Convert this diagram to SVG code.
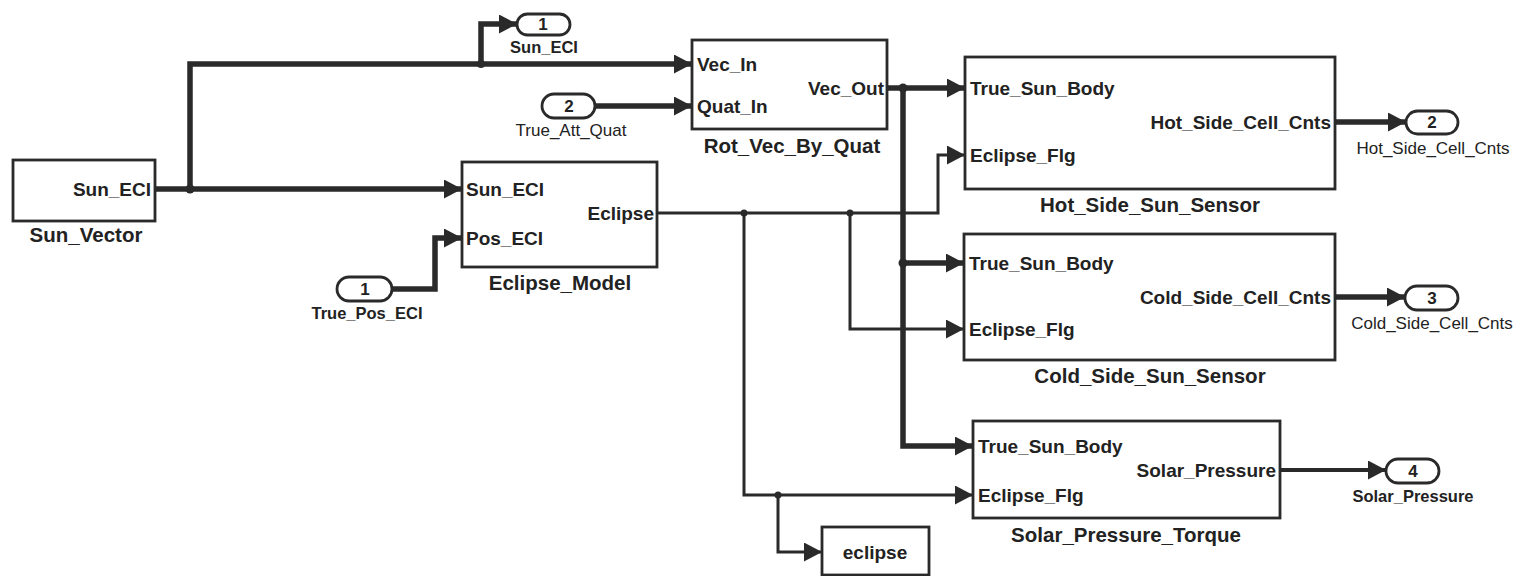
<svg xmlns="http://www.w3.org/2000/svg" width="1520" height="576" viewBox="0 0 1520 576">
<style>
.blk{fill:#fff;stroke:#2a2a2a;stroke-width:2.8}
.port{fill:#fff;stroke:#2a2a2a;stroke-width:2.8}
.t{font-family:"Liberation Sans",Arial,sans-serif;font-weight:bold;fill:#222}
.pl{font-size:19px}
.nm{font-size:20.5px;text-anchor:middle}
.num{font-size:17px;text-anchor:middle}
.ol{font-size:16.5px;text-anchor:middle}
.oln{font-size:17px;text-anchor:middle;font-weight:normal}
.r{text-anchor:end}
.thick{fill:none;stroke:#2a2a2a;stroke-width:5.5;marker-end:url(#ah)}
.thin{fill:none;stroke:#2a2a2a;stroke-width:3;marker-end:url(#ah)}
.dot{fill:#2a2a2a}
</style>
<defs>
<marker id="ah" markerUnits="userSpaceOnUse" markerWidth="18" markerHeight="19" refX="18" refY="9.5" orient="auto">
<path d="M0,0 L18,9.5 L0,19 z" fill="#2a2a2a"/>
</marker>
</defs>
<rect width="1520" height="576" fill="#fff"/>

<g id="connectors">
<path class="thick" d="M155 189 H462"/>
<path class="thick" d="M190 189 V64 H692"/>
<path class="thick" d="M481 64 V24 H517"/>
<path class="thick" d="M595 106 H692"/>
<path class="thick" d="M392 289 H435 V238 H462"/>
<path class="thick" d="M887 88 H965"/>
<path class="thick" d="M903 88 V446 H973"/>
<path class="thick" d="M903 263 H964"/>
<path class="thick" d="M1335 122 H1406"/>
<path class="thick" d="M1335 297 H1405"/>
<path class="thick" d="M1280 470 H1386" style="stroke-width:4"/>
<path class="thin" d="M657 213 H938 V155 H965"/>
<path class="thin" d="M744 213 V495 H973"/>
<path class="thin" d="M850 213 V329 H964"/>
<path class="thin" d="M778 495 V552 H822"/>
<circle class="dot" cx="190" cy="189" r="4.5"/>
<circle class="dot" cx="481" cy="64" r="4"/>
<circle class="dot" cx="903" cy="88" r="4.5"/>
<circle class="dot" cx="903" cy="263" r="4.5"/>
<circle class="dot" cx="744" cy="213" r="3.5"/>
<circle class="dot" cx="850" cy="213" r="3.5"/>
<circle class="dot" cx="778" cy="495" r="3.5"/>
</g>

<g id="Sun_Vector">
<rect class="blk" x="13" y="160" width="142" height="61"/>
<text class="t pl r" x="151" y="196">Sun_ECI</text>
<text class="t nm" x="86" y="242">Sun_Vector</text>
</g>

<g id="Eclipse_Model">
<rect class="blk" x="462" y="162" width="195" height="105"/>
<text class="t pl" x="466" y="196">Sun_ECI</text>
<text class="t pl" x="466" y="245">Pos_ECI</text>
<text class="t pl r" x="654" y="220">Eclipse</text>
<text class="t nm" x="560" y="290">Eclipse_Model</text>
</g>

<g id="Rot_Vec_By_Quat">
<rect class="blk" x="692" y="40" width="195" height="89"/>
<text class="t pl" x="697" y="71">Vec_In</text>
<text class="t pl" x="697" y="113">Quat_In</text>
<text class="t pl r" x="884" y="95">Vec_Out</text>
<text class="t nm" x="792" y="153">Rot_Vec_By_Quat</text>
</g>

<g id="Hot_Side_Sun_Sensor">
<rect class="blk" x="965" y="57" width="370" height="132"/>
<text class="t pl" x="970" y="95">True_Sun_Body</text>
<text class="t pl" x="970" y="162">Eclipse_Flg</text>
<text class="t pl r" x="1331" y="129">Hot_Side_Cell_Cnts</text>
<text class="t nm" x="1150" y="212">Hot_Side_Sun_Sensor</text>
</g>

<g id="Cold_Side_Sun_Sensor">
<rect class="blk" x="964" y="234" width="371" height="126"/>
<text class="t pl" x="969" y="270">True_Sun_Body</text>
<text class="t pl" x="969" y="336">Eclipse_Flg</text>
<text class="t pl r" x="1331" y="304">Cold_Side_Cell_Cnts</text>
<text class="t nm" x="1150" y="383">Cold_Side_Sun_Sensor</text>
</g>

<g id="Solar_Pressure_Torque">
<rect class="blk" x="973" y="421" width="307" height="97"/>
<text class="t pl" x="978" y="453">True_Sun_Body</text>
<text class="t pl" x="978" y="502">Eclipse_Flg</text>
<text class="t pl r" x="1276" y="477">Solar_Pressure</text>
<text class="t nm" x="1126" y="542">Solar_Pressure_Torque</text>
</g>

<g id="eclipse">
<rect class="blk" x="822" y="527" width="107" height="48"/>
<text class="t pl" x="875" y="559" text-anchor="middle">eclipse</text>
</g>

<g id="Out1_Sun_ECI">
<rect class="port" x="517" y="14" width="53" height="21" rx="10.5"/>
<text class="t num" x="543" y="30">1</text>
<text class="t ol" x="544" y="53">Sun_ECI</text>
</g>

<g id="In2_True_Att_Quat">
<rect class="port" x="542" y="94" width="53" height="24" rx="12"/>
<text class="t num" x="569" y="112">2</text>
<text class="t oln" x="571" y="136">True_Att_Quat</text>
</g>

<g id="In1_True_Pos_ECI">
<rect class="port" x="337" y="277" width="55" height="24" rx="12"/>
<text class="t num" x="365" y="295">1</text>
<text class="t ol" x="367" y="319">True_Pos_ECI</text>
</g>

<g id="Out2_Hot_Side_Cell_Cnts">
<rect class="port" x="1406" y="111" width="52" height="23" rx="11.5"/>
<text class="t num" x="1432" y="128">2</text>
<text class="t oln" x="1433" y="154">Hot_Side_Cell_Cnts</text>
</g>

<g id="Out3_Cold_Side_Cell_Cnts">
<rect class="port" x="1405" y="286" width="53" height="24" rx="12"/>
<text class="t num" x="1432" y="304">3</text>
<text class="t oln" x="1432" y="329">Cold_Side_Cell_Cnts</text>
</g>

<g id="Out4_Solar_Pressure">
<rect class="port" x="1386" y="459" width="53" height="24" rx="12"/>
<text class="t num" x="1413" y="477">4</text>
<text class="t ol" x="1413" y="502">Solar_Pressure</text>
</g>
</svg>
